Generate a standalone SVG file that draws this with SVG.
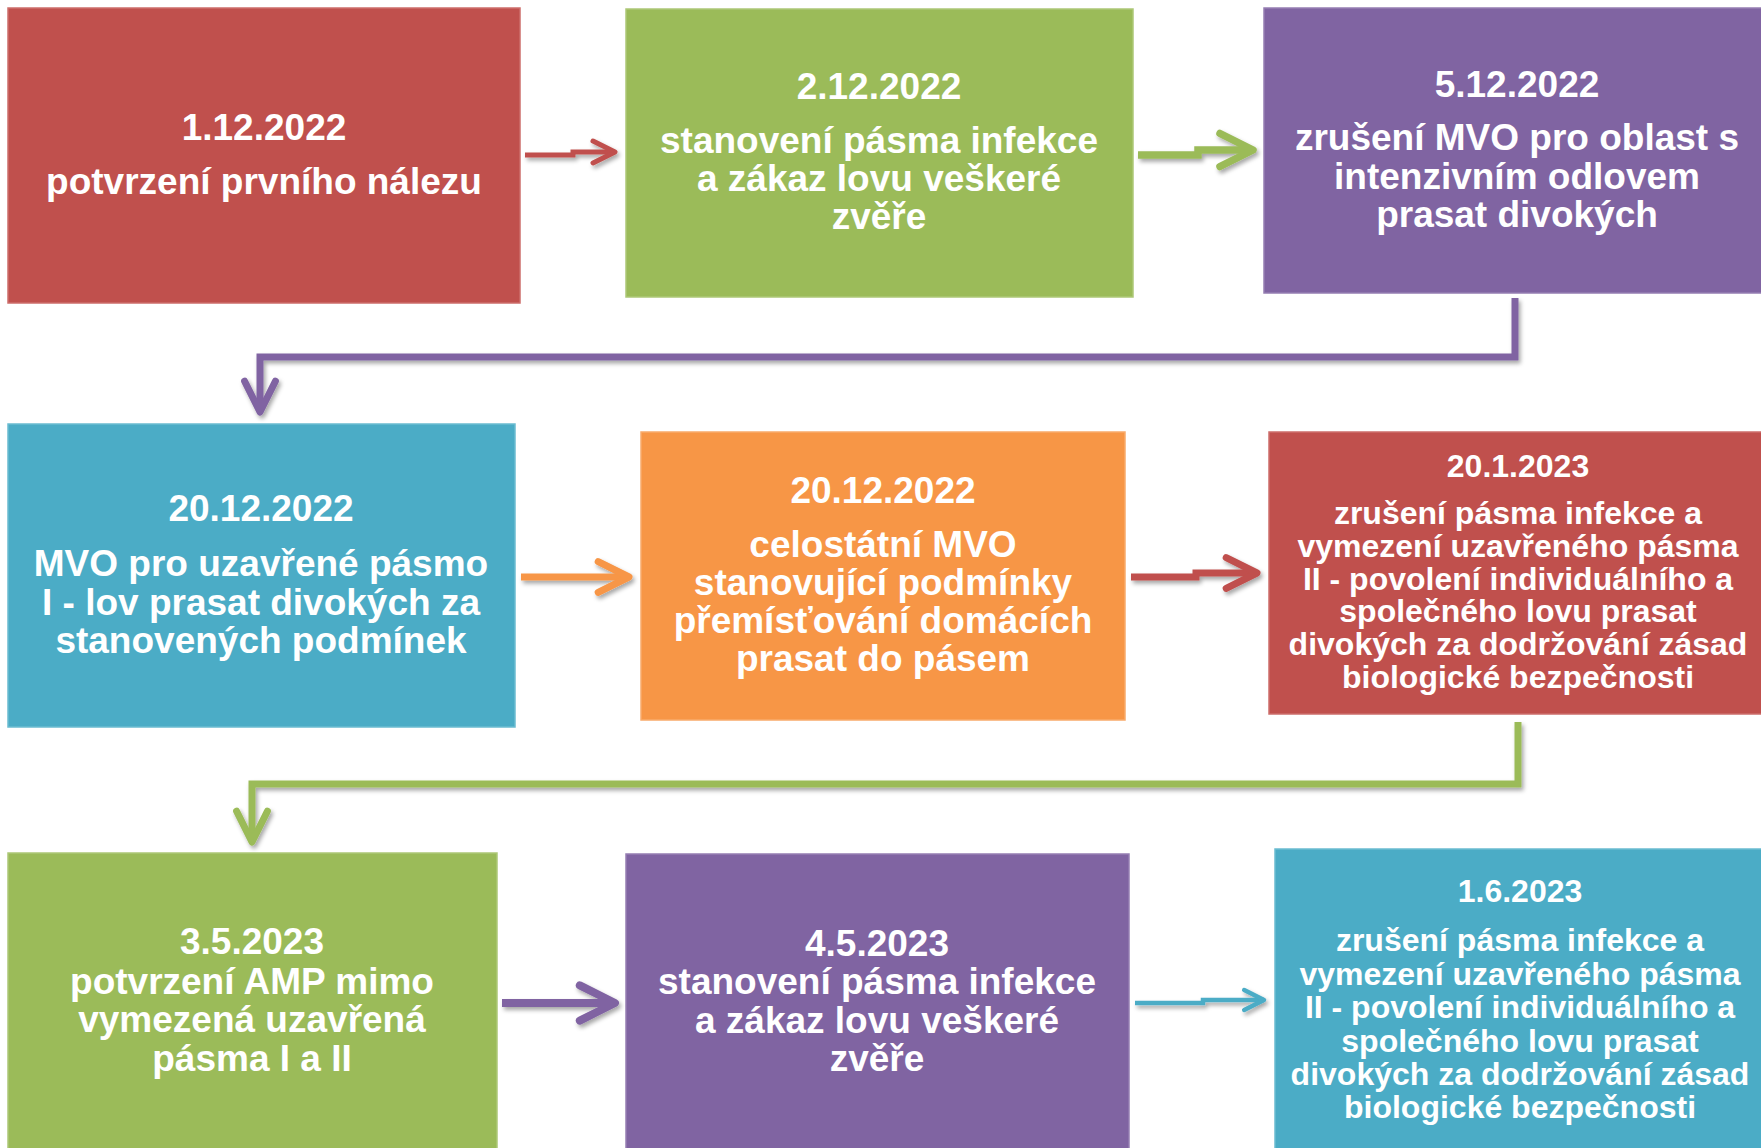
<svg xmlns="http://www.w3.org/2000/svg" width="1761" height="1148" viewBox="0 0 1761 1148">
<style>
  .box { stroke-width: 1.5; }
  .t { font-family: "Liberation Sans", Arial, sans-serif; font-weight: bold; fill: #ffffff; text-anchor: middle; }
  .big { font-size: 37px; }
  .small { font-size: 32px; }
  .conn { fill: none; stroke-linejoin: miter; stroke-linecap: butt; }
</style>
<defs>
  <filter id="sh" filterUnits="userSpaceOnUse" x="0" y="0" width="1761" height="1148">
    <feDropShadow dx="2" dy="3" stdDeviation="2" flood-color="#000000" flood-opacity="0.35"/>
  </filter>
  <marker id="mRed" viewBox="-5.5 -3 6.5 6" markerWidth="6.5" markerHeight="6" refX="0" refY="0" orient="auto" overflow="visible">
    <path d="M-4.4,-2.2 L0,0 L-4.4,2.2" fill="none" stroke="#C0504D" stroke-width="1" stroke-linecap="round" stroke-linejoin="round"/>
  </marker>
  <marker id="mGreen" viewBox="-5.5 -3 6.5 6" markerWidth="6.5" markerHeight="6" refX="0" refY="0" orient="auto" overflow="visible">
    <path d="M-4.4,-2.2 L0,0 L-4.4,2.2" fill="none" stroke="#9BBB59" stroke-width="1" stroke-linecap="round" stroke-linejoin="round"/>
  </marker>
  <marker id="mPurple" viewBox="-5.5 -3 6.5 6" markerWidth="6.5" markerHeight="6" refX="0" refY="0" orient="auto" overflow="visible">
    <path d="M-4.4,-2.2 L0,0 L-4.4,2.2" fill="none" stroke="#8064A2" stroke-width="1" stroke-linecap="round" stroke-linejoin="round"/>
  </marker>
  <marker id="mOrange" viewBox="-5.5 -3 6.5 6" markerWidth="6.5" markerHeight="6" refX="0" refY="0" orient="auto" overflow="visible">
    <path d="M-4.4,-2.2 L0,0 L-4.4,2.2" fill="none" stroke="#F79646" stroke-width="1" stroke-linecap="round" stroke-linejoin="round"/>
  </marker>
  <marker id="mBlue" viewBox="-5.5 -3 6.5 6" markerWidth="6.5" markerHeight="6" refX="0" refY="0" orient="auto" overflow="visible">
    <path d="M-4.4,-2.2 L0,0 L-4.4,2.2" fill="none" stroke="#4BACC6" stroke-width="1" stroke-linecap="round" stroke-linejoin="round"/>
  </marker>
</defs>

<g id="n1">
  <rect class="box" x="8" y="8" width="512" height="295" fill="#C0504D" stroke="#CD6E6B"/>
  <text class="t big" x="264" y="140">1.12.2022</text>
  <text class="t big" x="264" y="194">potvrzení prvního nálezu</text>
</g>
<g id="n2">
  <rect class="box" x="626" y="9" width="507" height="288" fill="#9BBB59" stroke="#ADC877"/>
  <text class="t big" x="879" y="99">2.12.2022</text>
  <text class="t big" x="879" y="153">stanovení pásma infekce</text>
  <text class="t big" x="879" y="191">a zákaz lovu veškeré</text>
  <text class="t big" x="879" y="229">zvěře</text>
</g>
<g id="n3">
  <rect class="box" x="1264" y="8" width="500" height="285" fill="#8064A2" stroke="#957EB2"/>
  <text class="t big" x="1517" y="97">5.12.2022</text>
  <text class="t big" x="1517" y="150">zrušení MVO pro oblast s</text>
  <text class="t big" x="1517" y="189">intenzivním odlovem</text>
  <text class="t big" x="1517" y="227">prasat divokých</text>
</g>
<g id="n4">
  <rect class="box" x="8" y="424" width="507" height="303" fill="#4BACC6" stroke="#6BBCD1"/>
  <text class="t big" x="261" y="521">20.12.2022</text>
  <text class="t big" x="261" y="576">MVO pro uzavřené pásmo</text>
  <text class="t big" x="261" y="615">I - lov prasat divokých za</text>
  <text class="t big" x="261" y="653">stanovených podmínek</text>
</g>
<g id="n5">
  <rect class="box" x="641" y="432" width="484" height="288" fill="#F79646" stroke="#F9AB6B"/>
  <text class="t big" x="883" y="503">20.12.2022</text>
  <text class="t big" x="883" y="557">celostátní MVO</text>
  <text class="t big" x="883" y="595">stanovující podmínky</text>
  <text class="t big" x="883" y="633">přemísťování domácích</text>
  <text class="t big" x="883" y="671">prasat do pásem</text>
</g>
<g id="n6">
  <rect class="box" x="1269" y="432" width="495" height="282" fill="#C0504D" stroke="#CD6E6B"/>
  <text class="t small" x="1518" y="477">20.1.2023</text>
  <text class="t small" x="1518" y="524">zrušení pásma infekce a</text>
  <text class="t small" x="1518" y="557">vymezení uzavřeného pásma</text>
  <text class="t small" x="1518" y="590">II - povolení individuálního a</text>
  <text class="t small" x="1518" y="622">společného lovu prasat</text>
  <text class="t small" x="1518" y="655">divokých za dodržování zásad</text>
  <text class="t small" x="1518" y="688">biologické bezpečnosti</text>
</g>
<g id="n7">
  <rect class="box" x="8" y="853" width="489" height="297" fill="#9BBB59" stroke="#ADC877"/>
  <text class="t big" x="252" y="954">3.5.2023</text>
  <text class="t big" x="252" y="994">potvrzení AMP mimo</text>
  <text class="t big" x="252" y="1032">vymezená uzavřená</text>
  <text class="t big" x="252" y="1071">pásma I a II</text>
</g>
<g id="n8">
  <rect class="box" x="626" y="854" width="503" height="296" fill="#8064A2" stroke="#957EB2"/>
  <text class="t big" x="877" y="956">4.5.2023</text>
  <text class="t big" x="877" y="994">stanovení pásma infekce</text>
  <text class="t big" x="877" y="1033">a zákaz lovu veškeré</text>
  <text class="t big" x="877" y="1071">zvěře</text>
</g>
<g id="n9">
  <rect class="box" x="1275" y="849" width="489" height="301" fill="#4BACC6" stroke="#6BBCD1"/>
  <text class="t small" x="1520" y="902">1.6.2023</text>
  <text class="t small" x="1520" y="951">zrušení pásma infekce a</text>
  <text class="t small" x="1520" y="985">vymezení uzavřeného pásma</text>
  <text class="t small" x="1520" y="1018">II - povolení individuálního a</text>
  <text class="t small" x="1520" y="1052">společného lovu prasat</text>
  <text class="t small" x="1520" y="1085">divokých za dodržování zásad</text>
  <text class="t small" x="1520" y="1118">biologické bezpečnosti</text>
</g>

<g id="connectors" filter="url(#sh)">
  <path class="conn" d="M525,155 H573 V152 H615" stroke="#C0504D" stroke-width="5" marker-end="url(#mRed)"/>
  <path class="conn" d="M1138,155 H1198 V150 H1253" stroke="#9BBB59" stroke-width="7.5" marker-end="url(#mGreen)"/>
  <path class="conn" d="M1515,298 V357 H260 V412" stroke="#8064A2" stroke-width="7" marker-end="url(#mPurple)"/>
  <path class="conn" d="M521,577 H629" stroke="#F79646" stroke-width="7" marker-end="url(#mOrange)"/>
  <path class="conn" d="M1131,577 H1196 V573 H1257" stroke="#C0504D" stroke-width="7" marker-end="url(#mRed)"/>
  <path class="conn" d="M1518,722 V784 H252 V842" stroke="#9BBB59" stroke-width="7" marker-end="url(#mGreen)"/>
  <path class="conn" d="M502,1003 H615" stroke="#8064A2" stroke-width="8" marker-end="url(#mPurple)"/>
  <path class="conn" d="M1135,1003 H1203 V1000 H1264" stroke="#4BACC6" stroke-width="4.5" marker-end="url(#mBlue)"/>
</g>
</svg>
